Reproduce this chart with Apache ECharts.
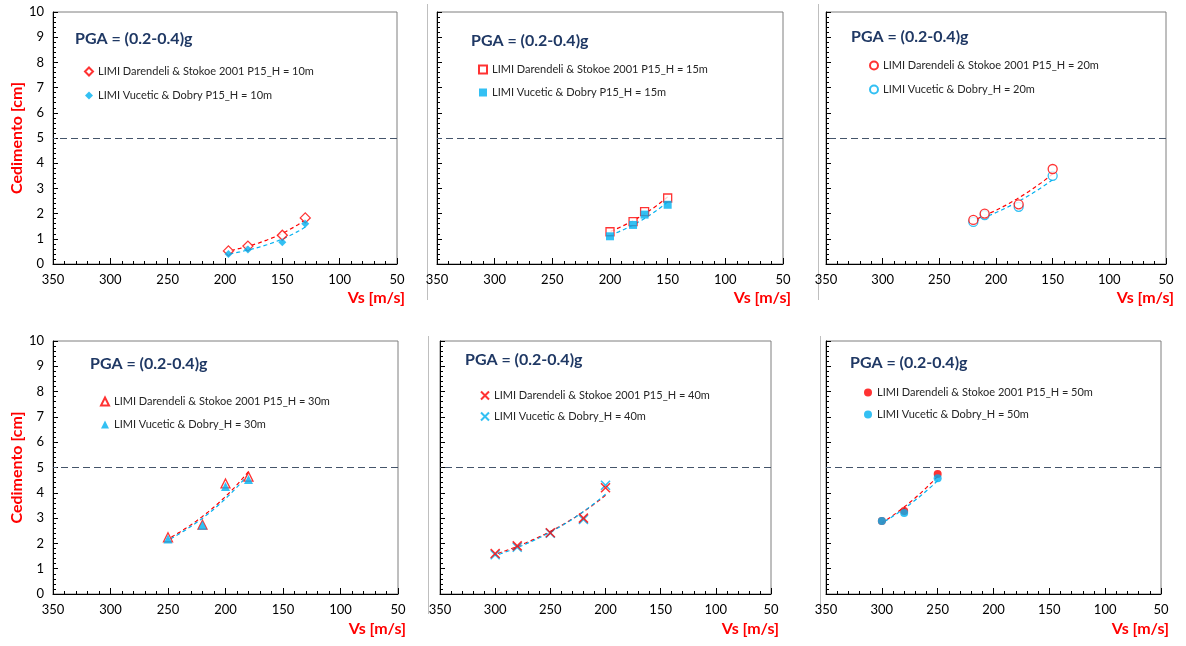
<!DOCTYPE html>
<html><head><meta charset="utf-8">
<script src="https://cdn.jsdelivr.net/npm/echarts@6/dist/echarts.min.js"></script>
<style>html,body{margin:0;padding:0;background:#fff}#c{width:1186px;height:646px}</style>
</head><body><div id="c"></div>
<script>
const titleText = 'PGA = (0.2-0.4)g';
const yName = 'Cedimento [cm]';
const xName = 'Vs [m/s]';
const yTicks = [0,1,2,3,4,5,6,7,8,9,10];
const xTicks = [350,300,250,200,150,100,50];
const limitValue = 5;

// H = 10 m
const vs10 = [197,180,150,130];
const dar10 = [0.52,0.71,1.14,1.83];
const vuc10 = [0.40,0.58,0.86,1.60];
// H = 15 m
const vs15 = [200,180,170,150];
const dar15 = [1.28,1.68,2.08,2.62];
const vuc15 = [1.10,1.55,1.96,2.35];
// H = 20 m
const vs20 = [220,210,180,150];
const dar20 = [1.75,2.00,2.37,3.77];
const vuc20 = [1.67,1.94,2.27,3.50];
// H = 30 m
const vs30 = [250,220,200,180];
const dar30 = [2.24,2.74,4.37,4.64];
const vuc30 = [2.17,2.72,4.25,4.53];
// H = 40 m
const vs40 = [300,280,250,220,200];
const dar40 = [1.60,1.90,2.42,3.00,4.20];
const vuc40 = [1.55,1.85,2.40,2.95,4.30];
// H = 50 m
const vs50 = [300,280,250];
const dar50 = [2.89,3.28,4.74];
const vuc50 = [2.89,3.20,4.58];

const names = [
  ['LIMI Darendeli & Stokoe 2001 P15_H = 10m','LIMI Vucetic & Dobry P15_H = 10m'],
  ['LIMI Darendeli & Stokoe 2001 P15_H = 15m','LIMI Vucetic & Dobry P15_H = 15m'],
  ['LIMI Darendeli & Stokoe 2001 P15_H = 20m','LIMI Vucetic & Dobry_H = 20m'],
  ['LIMI Darendeli & Stokoe 2001 P15_H = 30m','LIMI Vucetic & Dobry_H = 30m'],
  ['LIMI Darendeli & Stokoe 2001 P15_H = 40m','LIMI Vucetic & Dobry_H = 40m'],
  ['LIMI Darendeli & Stokoe 2001 P15_H = 50m','LIMI Vucetic & Dobry_H = 50m']
];

const RED = '#FF0000', BLUE = '#00B0F0', NAVY = '#1F3864';
const FONT = 'Lato';
const CROSS = 'path://M0,0L10,10M10,0L0,10';

const panels = [
  {vs:vs10, a:dar10, b:vuc10, grid:{left:53,top:12,width:344,height:252}, title:[75,31], legend:[84,66], gap:13,
   symA:{symbol:'diamond',size:10,hollow:true}, symB:{symbol:'diamond',size:8,hollow:false}, yLabels:true, blueTop:true},
  {vs:vs15, a:dar15, b:vuc15, grid:{left:437,top:12,width:346,height:252}, title:[471,33], legend:[478,64], gap:12,
   symA:{symbol:'rect',size:8,hollow:true}, symB:{symbol:'rect',size:8,hollow:false}, yLabels:false, blueTop:true},
  {vs:vs20, a:dar20, b:vuc20, grid:{left:826,top:12,width:340,height:252}, title:[851,29], legend:[869,60], gap:13,
   symA:{symbol:'circle',size:9,hollow:true}, symB:{symbol:'circle',size:9,hollow:true}, yLabels:false, blueTop:false},
  {vs:vs30, a:dar30, b:vuc30, grid:{left:53,top:341,width:345,height:253}, title:[90,356], legend:[100,396], gap:12,
   symA:{symbol:'triangle',size:9,hollow:true}, symB:{symbol:'triangle',size:9,hollow:false}, yLabels:true, blueTop:true},
  {vs:vs40, a:dar40, b:vuc40, grid:{left:440,top:341,width:331,height:253}, title:[465,352], legend:[480,390], gap:10,
   symA:{symbol:CROSS,size:9,cross:true}, symB:{symbol:CROSS,size:9,cross:true}, yLabels:false, blueTop:false},
  {vs:vs50, a:dar50, b:vuc50, grid:{left:826,top:341,width:335,height:253}, title:[850,355], legend:[864,387], gap:11,
   symA:{symbol:'circle',size:8,hollow:false}, symB:{symbol:'circle',size:8,hollow:false}, yLabels:false, blueTop:true}
];

function fitExp(xs, ys, n) {
  const ly = ys.map(Math.log);
  const m = xs.length;
  const mx = xs.reduce((s,v)=>s+v,0)/m, my = ly.reduce((s,v)=>s+v,0)/m;
  let sxx=0, sxy=0;
  for (let i=0;i<m;i++){ sxx+=(xs[i]-mx)**2; sxy+=(xs[i]-mx)*(ly[i]-my); }
  const b = sxy/sxx, a = my - b*mx;
  const x0 = Math.min(...xs), x1 = Math.max(...xs);
  const out = [];
  for (let i=0;i<=n;i++){ const x = x0 + (x1-x0)*i/n; out.push([x, Math.exp(a + b*x)]); }
  return out;
}

function itemStyleFor(sym, color) {
  if (sym.cross) return {color: color, borderColor: color, borderWidth: 1.6};
  if (sym.hollow) return {color: '#fff', borderColor: color, borderWidth: 1.3};
  return {color: color, borderColor: color, borderWidth: 0};
}

const grid=[], xAxis=[], yAxis=[], series=[], title=[], legend=[];
panels.forEach((p, i) => {
  const bottomRow = i >= 3;
  grid.push(Object.assign({show:true, borderColor:'#7F7F7F', borderWidth:1, backgroundColor:'transparent'}, p.grid));
  xAxis.push({
    type:'value', gridIndex:i, inverse:true, min:50, max:350, interval:50,
    name: xName, nameLocation:'start', nameGap:8,
    nameTextStyle:{color:RED, fontWeight:'bold', fontSize:16, fontFamily:FONT, align:'right', verticalAlign:'top', padding:[bottomRow?27:26,0,0,0]},
    axisLine:{show:true, onZero:false, lineStyle:{color:'#000', width:1}},
    axisTick:{show:true, inside:true, length:6, lineStyle:{color:'#000'}},
    minorTick:{show:true, splitNumber:5, length:3, lineStyle:{color:'#000'}},
    axisLabel:{color:'#000', fontSize:13, fontFamily:FONT, margin:9},
    splitLine:{show:false}
  });
  yAxis.push({
    type:'value', gridIndex:i, min:0, max:10, interval:1,
    name: p.yLabels ? yName : '', nameLocation:'middle', nameGap:28,
    nameTextStyle:{color:RED, fontWeight:'bold', fontSize:16, fontFamily:FONT},
    axisLine:{show:true, onZero:false, lineStyle:{color:'#000', width:1}},
    axisTick:{show:true, inside:true, length:5, lineStyle:{color:'#000'}},
    minorTick:{show:true, splitNumber:5, length:3, lineStyle:{color:'#000'}},
    axisLabel:{show:p.yLabels, color:'#000', fontSize:13, fontFamily:FONT, margin:9},
    splitLine:{show:false}
  });
  title.push({text:titleText, left:p.title[0], top:p.title[1], padding:0,
    textStyle:{color:NAVY, fontWeight:'bold', fontSize:16, fontFamily:FONT}});
  legend.push({data:[names[i][0], names[i][1]], orient:'vertical', left:p.legend[0], top:p.legend[1], padding:0,
    itemWidth:8, itemHeight:8, itemGap:p.gap, selectedMode:false,
    textStyle:{color:'#262626', fontSize:11, fontFamily:FONT}});
  const dA = p.vs.map((v,k)=>[v, p.a[k]]);
  const dB = p.vs.map((v,k)=>[v, p.b[k]]);
  series.push({name:'trendA'+i, type:'line', xAxisIndex:i, yAxisIndex:i, data:fitExp(p.vs,p.a,40),
    showSymbol:false, symbol:'none', smooth:false, silent:true,
    lineStyle:{color:RED, width:1.2, type:[4,3]}, z:2,
    markLine:{silent:true, symbol:['none','none'], label:{show:false},
      lineStyle:{color:'#44546A', width:1, type:[7,4]}, data:[{yAxis:limitValue}]}});
  series.push({name:'trendB'+i, type:'line', xAxisIndex:i, yAxisIndex:i, data:fitExp(p.vs,p.b,40),
    showSymbol:false, symbol:'none', smooth:false, silent:true,
    lineStyle:{color:BLUE, width:1.2, type:[4,3]}, z:2});
  series.push({name:names[i][0], type:'scatter', xAxisIndex:i, yAxisIndex:i, data:dA,
    symbol:p.symA.symbol, symbolSize:p.symA.size, itemStyle:itemStyleFor(p.symA, RED), z:p.blueTop?3:4});
  series.push({name:names[i][1], type:'scatter', xAxisIndex:i, yAxisIndex:i, data:dB,
    symbol:p.symB.symbol, symbolSize:p.symB.size, itemStyle:itemStyleFor(p.symB, BLUE), z:p.blueTop?4:3});
});

// chart-object frame edges of the neighbouring panels
const frameStyle = {stroke:'#BFBFBF', lineWidth:1};
const graphic = [
  {type:'line', shape:{x1:427.5,y1:4,x2:427.5,y2:300}, style:frameStyle, silent:true},
  {type:'line', shape:{x1:818.5,y1:4,x2:818.5,y2:300}, style:frameStyle, silent:true},
  {type:'line', shape:{x1:428.5,y1:336,x2:428.5,y2:614}, style:frameStyle, silent:true},
  {type:'line', shape:{x1:820.5,y1:336,x2:820.5,y2:614}, style:frameStyle, silent:true}
];

const chart = echarts.init(document.getElementById('c'));
chart.setOption({animation:false, backgroundColor:'#fff', textStyle:{fontFamily:FONT},
  title, legend, grid, xAxis, yAxis, series, graphic});
</script></body></html>
